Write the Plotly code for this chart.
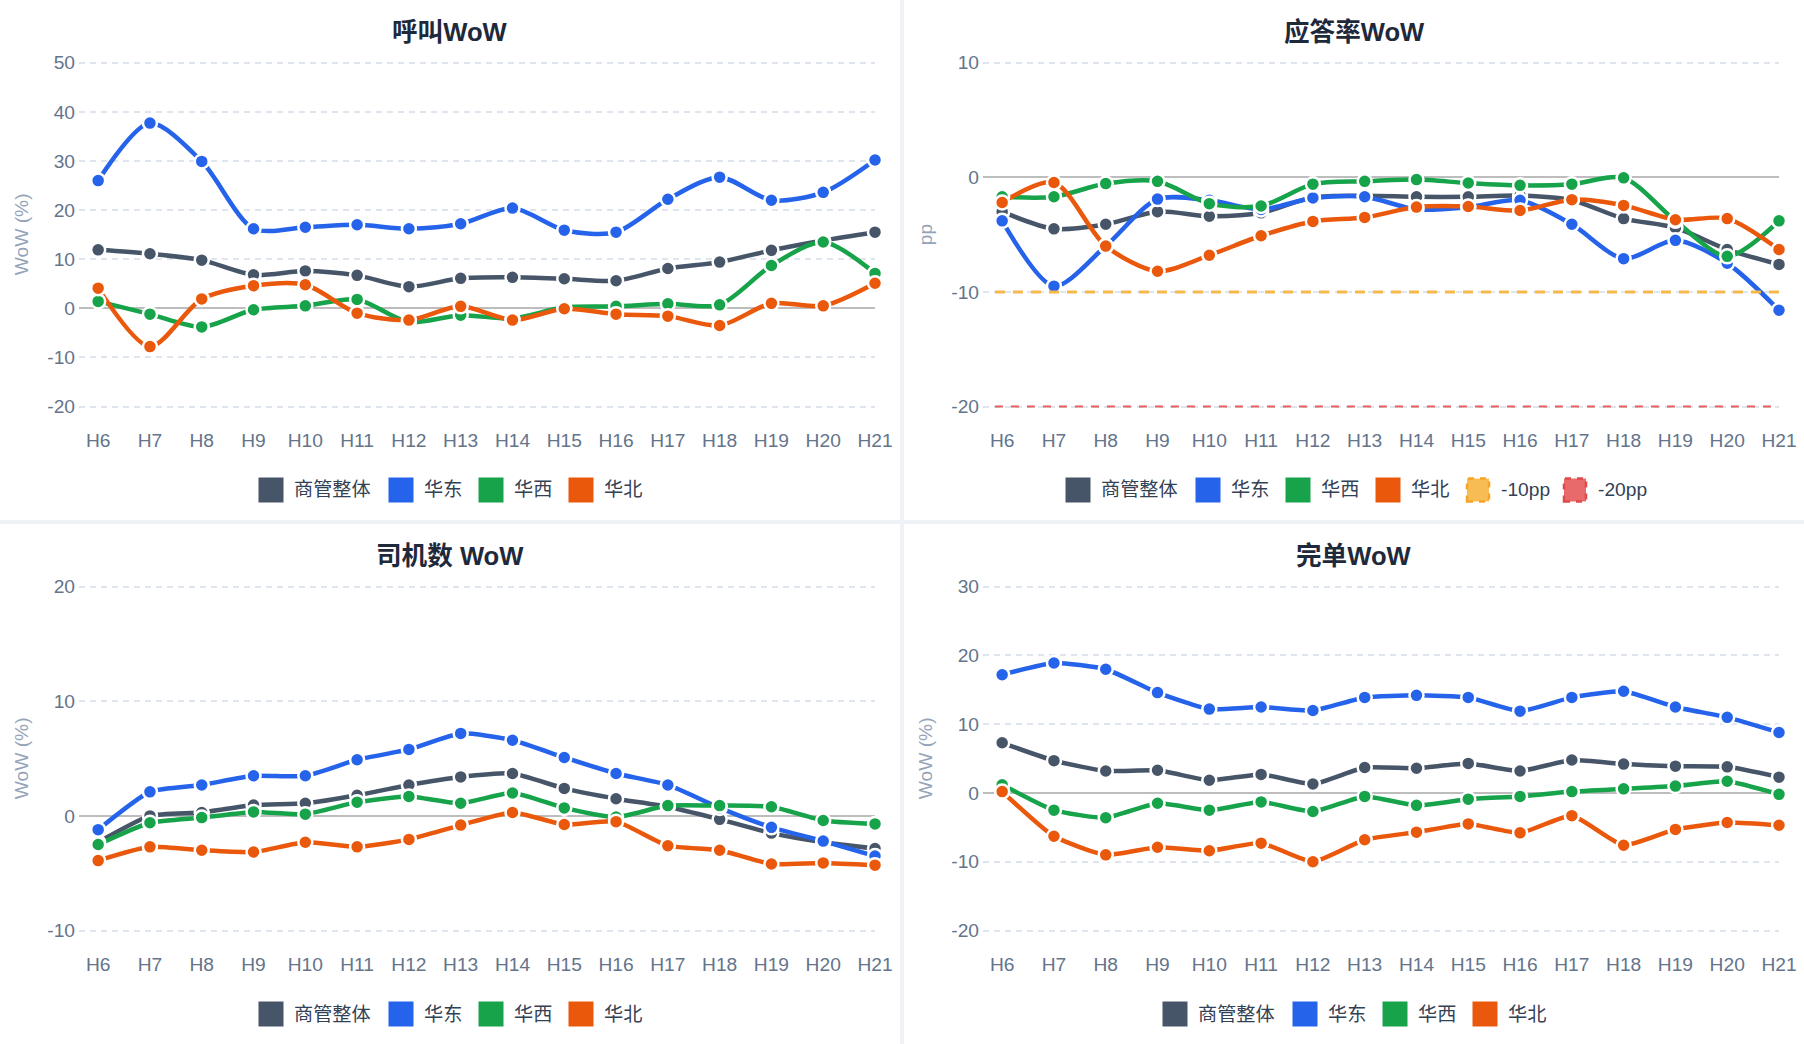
import plotly.graph_objects as go

# ---------------- data ----------------
hours = ['H6', 'H7', 'H8', 'H9', 'H10', 'H11', 'H12', 'H13', 'H14', 'H15',
         'H16', 'H17', 'H18', 'H19', 'H20', 'H21']
series_names = ['商管整体', '华东', '华西', '华北']

# 呼叫WoW (%)
call_total = [11.9, 11.1, 9.8, 6.8, 7.6, 6.7, 4.4, 6.1, 6.3, 6.0, 5.6, 8.1, 9.4, 11.8, 13.8, 15.5]
call_east = [26.0, 37.7, 29.9, 16.2, 16.5, 17.0, 16.2, 17.2, 20.4, 15.9, 15.5, 22.2, 26.7, 22.0, 23.6, 30.2]
call_west = [1.4, -1.2, -3.8, -0.3, 0.5, 1.8, -2.8, -1.4, -2.1, 0.2, 0.4, 0.9, 0.7, 8.7, 13.5, 7.1]
call_north = [4.1, -7.8, 1.9, 4.6, 4.8, -1.0, -2.4, 0.4, -2.4, -0.1, -1.2, -1.6, -3.5, 1.0, 0.5, 5.1]

# 应答率WoW (pp)
ans_total = [-3.0, -4.5, -4.1, -3.0, -3.4, -3.1, -1.75, -1.6, -1.7, -1.7, -1.6, -2.0, -3.6, -4.4, -6.3, -7.6]
ans_east = [-3.8, -9.5, -6.0, -1.9, -2.0, -2.8, -1.8, -1.7, -2.8, -2.6, -2.0, -4.1, -7.1, -5.5, -7.5, -11.6]
ans_west = [-1.7, -1.7, -0.55, -0.35, -2.3, -2.5, -0.6, -0.35, -0.2, -0.5, -0.7, -0.6, -0.05, -3.8, -6.9, -3.8]
ans_north = [-2.2, -0.45, -6.0, -8.2, -6.8, -5.1, -3.85, -3.5, -2.6, -2.55, -2.9, -1.95, -2.45, -3.7, -3.6, -6.3]
ans_thresholds = [-10, -20]
ans_threshold_names = ['-10pp', '-20pp']

# 司机数 WoW (%)
drv_total = [-2.3, 0.0, 0.3, 0.95, 1.1, 1.8, 2.7, 3.4, 3.7, 2.4, 1.5, 0.8, -0.3, -1.5, -2.3, -2.85]
drv_east = [-1.2, 2.1, 2.7, 3.5, 3.5, 4.9, 5.8, 7.2, 6.6, 5.1, 3.7, 2.7, 0.7, -1.0, -2.2, -3.5]
drv_west = [-2.5, -0.6, -0.15, 0.35, 0.15, 1.2, 1.7, 1.1, 2.0, 0.7, -0.1, 0.9, 0.9, 0.8, -0.4, -0.7]
drv_north = [-3.9, -2.7, -3.0, -3.15, -2.3, -2.7, -2.05, -0.8, 0.3, -0.75, -0.5, -2.6, -3.0, -4.2, -4.1, -4.3]

# 完单WoW (%)
fin_total = [7.3, 4.7, 3.2, 3.3, 1.85, 2.7, 1.3, 3.7, 3.6, 4.3, 3.2, 4.8, 4.2, 3.9, 3.8, 2.3]
fin_east = [17.2, 18.9, 18.0, 14.6, 12.2, 12.5, 12.0, 13.9, 14.2, 13.9, 11.9, 13.9, 14.8, 12.5, 11.0, 8.8]
fin_west = [1.2, -2.5, -3.6, -1.5, -2.5, -1.3, -2.7, -0.5, -1.8, -0.9, -0.5, 0.2, 0.6, 1.0, 1.7, -0.2]
fin_north = [0.2, -6.3, -9.0, -7.9, -8.4, -7.3, -10.0, -6.8, -5.7, -4.5, -5.8, -3.3, -7.6, -5.3, -4.3, -4.7]

titles = ['<b>呼叫WoW</b>', '<b>应答率WoW</b>', '<b>司机数 WoW</b>', '<b>完单WoW</b>']
y_titles = ['WoW (%)', 'pp', 'WoW (%)', 'WoW (%)']
y_ticks = [[-20, -10, 0, 10, 20, 30, 40, 50], [-20, -10, 0, 10], [-10, 0, 10, 20], [-20, -10, 0, 10, 20, 30]]

# ---------------- style ----------------
W, H = 1804, 1044
COLORS = ['#475569', '#2563eb', '#16a34a', '#ea580c']
TH_COLORS = ['#f7b84b', '#e35d5d']
TH_FILL = ['rgba(248,188,85,1)', 'rgba(232,106,106,1)']
TH_BORDER = ['#f5a524', '#e04a4a']
FONT = 'Liberation Sans, Arial, Noto Sans CJK SC, sans-serif'
BG = '#eef1f6'
smooth = [0.8, 0.8, 0.55, 0.5]

panels = [
    dict(x0=0, y0=0, data=[call_total, call_east, call_west, call_north]),
    dict(x0=904, y0=0, data=[ans_total, ans_east, ans_west, ans_north]),
    dict(x0=0, y0=524, data=[drv_total, drv_east, drv_west, drv_north]),
    dict(x0=904, y0=524, data=[fin_total, fin_east, fin_west, fin_north]),
]


def px(x):
    return x / W


def py(y):
    return 1 - y / H


fig = go.Figure()
shapes = []
annotations = []

# panel backgrounds
for p in panels:
    shapes.append(dict(type='rect', xref='paper', yref='paper', layer='below',
                       x0=px(p['x0']), x1=px(p['x0'] + 900),
                       y0=py(p['y0'] + 520), y1=py(p['y0']),
                       fillcolor='white', line=dict(width=0)))

PLOT_TOP, PLOT_BOT, PAD = 62.7, 406.5, 3

for i, p in enumerate(panels):
    n = '' if i == 0 else str(i + 1)
    xa, ya = 'x' + n, 'y' + n
    # lines first
    for k, (vals, c) in enumerate(zip(p['data'], COLORS)):
        fig.add_trace(go.Scatter(x=hours, y=vals, mode='lines', name=series_names[k],
                                 line=dict(color=c, width=4.5, shape='spline', smoothing=smooth[i]),
                                 xaxis=xa, yaxis=ya, showlegend=False, cliponaxis=False,
                                 hoverinfo='skip'))
    # markers on top
    for k, (vals, c) in enumerate(zip(p['data'], COLORS)):
        fig.add_trace(go.Scatter(x=hours, y=vals, mode='markers', name=series_names[k],
                                 marker=dict(color=c, size=14, line=dict(color='white', width=2.5)),
                                 xaxis=xa, yaxis=ya, showlegend=False, cliponaxis=False))

    left, top = p['x0'], p['y0']
    xdom = [px(left + 79), px(left + 875)]
    # pad domain a few px so the boundary grid lines are drawn
    ydom = [py(top + PLOT_BOT + PAD), py(top + PLOT_TOP - PAD)]
    yt = y_ticks[i]
    upp = (yt[-1] - yt[0]) / (PLOT_BOT - PLOT_TOP)
    fig.update_layout(**{
        ('xaxis' + n): dict(domain=xdom, anchor=ya, type='category', range=[-0.37, 15],
                            showgrid=False, zeroline=False, showline=False, ticks='',
                            automargin=False,
                            tickfont=dict(size=19.2, color='#64748b', family=FONT),
                            ticklabelstandoff=int(20 - PAD), fixedrange=True),
        ('yaxis' + n): dict(domain=ydom, anchor=xa,
                            range=[yt[0] - PAD * upp, yt[-1] + PAD * upp], tickvals=yt,
                            ticktext=[str(v) for v in yt], automargin=False,
                            showgrid=True, gridcolor='#dfe5ee', gridwidth=1.8, griddash='6px,5px',
                            zeroline=True, zerolinecolor='#bdbdbd', zerolinewidth=2,
                            showline=False, ticks='', ticklabelstandoff=3,
                            tickfont=dict(size=19.2, color='#64748b', family=FONT),
                            fixedrange=True),
    })

    # title
    annotations.append(dict(text=titles[i], xref='paper', yref='paper',
                            x=px(left + 450), y=py(top + 32), xanchor='center', yanchor='middle',
                            showarrow=False, font=dict(size=25.6, color='#1e293b', family=FONT)))
    # y axis title
    annotations.append(dict(text=y_titles[i], xref='paper', yref='paper', textangle=-90,
                            x=px(left + 21.7), y=py(top + 234.5), xanchor='center', yanchor='middle',
                            showarrow=False, font=dict(size=19.2, color='#94a3b8', family=FONT)))

    # legend (custom, centred)
    items = [(nm, COLORS[k], None) for k, nm in enumerate(series_names)]
    if i == 1:
        items += [(ans_threshold_names[t], TH_FILL[t], TH_BORDER[t]) for t in range(2)]

    def tw(s):
        w = 0
        for ch in s:
            w += 20.0 if ord(ch) > 0x2E80 else (10.0 if ch.isalnum() else 7.0)
        return w

    widths = [tw(nm) for nm, _, _ in items]
    total = sum(25 + 8 + w for w in widths) + 17 * (len(items) - 1)
    cx = left + 450 - total / 2
    cy = top + 490
    for (nm, c, border), w in zip(items, widths):
        if border is None:
            shapes.append(dict(type='rect', xref='paper', yref='paper',
                               x0=px(cx), x1=px(cx + 25), y0=py(cy + 12.5), y1=py(cy - 12.5),
                               fillcolor=c, line=dict(width=0)))
        else:
            shapes.append(dict(type='rect', xref='paper', yref='paper',
                               x0=px(cx + 1.5), x1=px(cx + 23.5), y0=py(cy + 11.5), y1=py(cy - 11.5),
                               fillcolor=c, line=dict(color=border, width=2.5, dash='6px,6px')))
        annotations.append(dict(text=nm, xref='paper', yref='paper', x=px(cx + 33), y=py(cy),
                                xanchor='left', yanchor='middle', showarrow=False,
                                font=dict(size=19.2, color='#334155', family=FONT)))
        cx += 25 + 8 + w + 17

# threshold mark lines on 应答率 chart
for t, v in enumerate(ans_thresholds):
    shapes.append(dict(type='line', xref='x2 domain', yref='y2', x0=0.015, x1=1, y0=v, y1=v,
                       line=dict(color=TH_COLORS[t], width=3 if t == 0 else 2,
                                 dash='10px,8px' if t == 0 else '8px,8px'),
                       layer='above'))

fig.update_layout(template='none', width=W, height=H,
                  margin=dict(l=0, r=0, t=0, b=0, pad=0, autoexpand=False),
                  paper_bgcolor=BG, plot_bgcolor='rgba(0,0,0,0)',
                  font=dict(family=FONT), showlegend=False,
                  shapes=shapes, annotations=annotations)

fig.write_html('out.html', config={'displayModeBar': False},
               post_script="document.body.style.margin='0';document.body.style.overflow='hidden';")
